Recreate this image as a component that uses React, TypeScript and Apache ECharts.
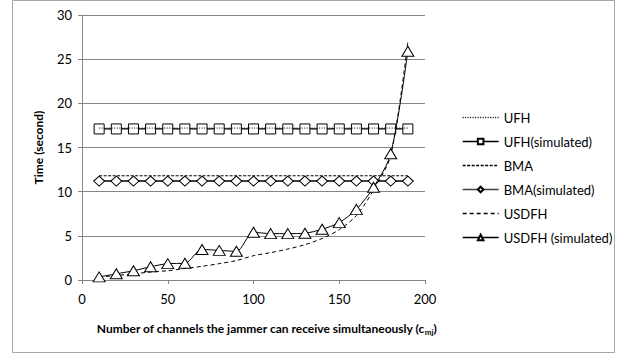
import React, { useEffect, useRef } from "react";
import * as echarts from "echarts";

const channels = [10, 20, 30, 40, 50, 60, 70, 80, 90, 100, 110, 120, 130, 140, 150, 160, 170, 180, 190];
const ufhTheory = [17.2, 17.2, 17.2, 17.2, 17.2, 17.2, 17.2, 17.2, 17.2, 17.2, 17.2, 17.2, 17.2, 17.2, 17.2, 17.2, 17.2, 17.2, 17.2];
const ufhSim = [17.1, 17.1, 17.1, 17.1, 17.1, 17.1, 17.1, 17.1, 17.1, 17.1, 17.1, 17.1, 17.1, 17.1, 17.1, 17.1, 17.1, 17.1, 17.1];
const bmaTheory = [11.8, 11.8, 11.8, 11.8, 11.8, 11.8, 11.8, 11.8, 11.8, 11.8, 11.8, 11.8, 11.8, 11.8, 11.8, 11.8, 11.8, 11.8, 11.8];
const bmaSim = [11.2, 11.2, 11.2, 11.2, 11.2, 11.2, 11.2, 11.2, 11.2, 11.2, 11.2, 11.2, 11.2, 11.2, 11.2, 11.2, 11.2, 11.2, 11.2];
const usdfhTheory = [0.35, 0.5, 0.7, 0.9, 1.05, 1.3, 1.55, 1.85, 2.2, 2.75, 3.1, 3.5, 4.0, 4.7, 5.7, 7.3, 10.2, 14.1, 27.0];
const usdfhSim = [0.35, 0.7, 1.05, 1.5, 1.85, 1.9, 3.45, 3.35, 3.25, 5.4, 5.25, 5.25, 5.3, 5.75, 6.5, 8.0, 10.5, 14.3, 25.9];

const seriesNames = ["UFH", "UFH(simulated)", "BMA", "BMA(simulated)", "USDFH", "USDFH (simulated)"];
const xTicks = { min: 0, max: 200, interval: 50 };
const yTicks = { min: 0, max: 30, interval: 5 };

const pairs = (ys: number[]) => channels.map((c, i) => [c, ys[i]]);

export default function App() {
  const ref = useRef<HTMLDivElement>(null);
  useEffect(() => {
    if (!ref.current) return;
    const chart = echarts.init(ref.current, null, { renderer: "svg" });
    const font = "Lato, 'Open Sans', sans-serif";
    const marker = { color: "#ffffff", borderColor: "#000000", borderWidth: 1 };
    const hidden = { opacity: 0 };
    chart.setOption({
      animation: false,
      textStyle: { fontFamily: font },
      grid: { left: 82, right: 193, top: 15, bottom: 78 },
      graphic: [
        {
          type: "rect",
          shape: { x: 12.5, y: 0.5, width: 602, height: 352 },
          style: { fill: "none", stroke: "#a6a6a6", lineWidth: 1 },
          silent: true,
          z: -1,
        },
      ],
      legend: {
        orient: "vertical",
        left: 457,
        top: 106,
        itemWidth: 36,
        itemHeight: 7,
        itemGap: 11,
        lineStyle: { width: 1.3 },
        textStyle: { fontFamily: font, fontSize: 13, color: "#000" },
        data: [
          { name: seriesNames[0], itemStyle: hidden },
          { name: seriesNames[1] },
          { name: seriesNames[2], itemStyle: hidden },
          { name: seriesNames[3] },
          { name: seriesNames[4], itemStyle: hidden },
          { name: seriesNames[5] },
        ],
      },
      xAxis: {
        type: "value",
        ...xTicks,
        axisLine: { show: true, lineStyle: { color: "#868686" } },
        axisTick: { show: true, length: 4, lineStyle: { color: "#868686" } },
        axisLabel: { margin: 12, fontSize: 13, color: "#000", fontFamily: font },
        splitLine: { show: false },
        name: "{t|Number of channels the jammer can receive simultaneously (c}{s|mj}{t|)}",
        nameLocation: "middle",
        nameGap: 40,
        nameTextStyle: {
          padding: [0, 0, 0, 26],
          rich: {
            t: { fontFamily: font, fontSize: 12, fontWeight: "bold", color: "#000", lineHeight: 16 },
            s: { fontFamily: font, fontSize: 8, fontWeight: "bold", color: "#000", lineHeight: 16, verticalAlign: "bottom", padding: [4, 0, 0, 0] },
          },
        },
      },
      yAxis: {
        type: "value",
        ...yTicks,
        axisLine: { show: true, lineStyle: { color: "#868686" } },
        axisTick: { show: true, length: 4, lineStyle: { color: "#868686" } },
        axisLabel: { margin: 10, fontSize: 13, color: "#000", fontFamily: font },
        splitLine: { show: true, lineStyle: { color: "#868686", width: 1 } },
        name: "Time (second)",
        nameLocation: "middle",
        nameGap: 38,
        nameTextStyle: { fontFamily: font, fontSize: 12, fontWeight: "bold", color: "#000" },
      },
      series: [
        {
          name: seriesNames[0],
          type: "line",
          data: pairs(ufhTheory),
          symbol: "none",
          lineStyle: { color: "#000", width: 1, type: [1, 1.5] },
          itemStyle: { color: "#000" },
          z: 3,
        },
        {
          name: seriesNames[1],
          type: "line",
          data: pairs(ufhSim),
          symbol: "rect",
          symbolSize: 10,
          lineStyle: { color: "#000", width: 1.3 },
          itemStyle: marker,
          z: 2,
        },
        {
          name: seriesNames[2],
          type: "line",
          data: pairs(bmaTheory),
          symbol: "none",
          lineStyle: { color: "#000", width: 1, type: [3, 1.5] },
          itemStyle: { color: "#000" },
          z: 2,
        },
        {
          name: seriesNames[3],
          type: "line",
          data: pairs(bmaSim),
          symbol: "diamond",
          symbolSize: [11, 10],
          lineStyle: { color: "#404040", width: 2 },
          itemStyle: marker,
          z: 2,
        },
        {
          name: seriesNames[4],
          type: "line",
          data: pairs(usdfhTheory),
          symbol: "none",
          smooth: 0.3,
          lineStyle: { color: "#000", width: 1, type: [4, 3] },
          itemStyle: { color: "#000" },
          z: 2,
        },
        {
          name: seriesNames[5],
          type: "line",
          data: pairs(usdfhSim),
          symbol: "triangle",
          symbolSize: [12, 10],
          smooth: 0.3,
          lineStyle: { color: "#000", width: 1 },
          itemStyle: marker,
          z: 4,
        },
      ],
    });
    return () => chart.dispose();
  }, []);
  return (
    <div
      ref={ref}
      style={{ position: "fixed", left: 0, top: 0, width: 618, height: 358, background: "#fff" }}
    />
  );
}
